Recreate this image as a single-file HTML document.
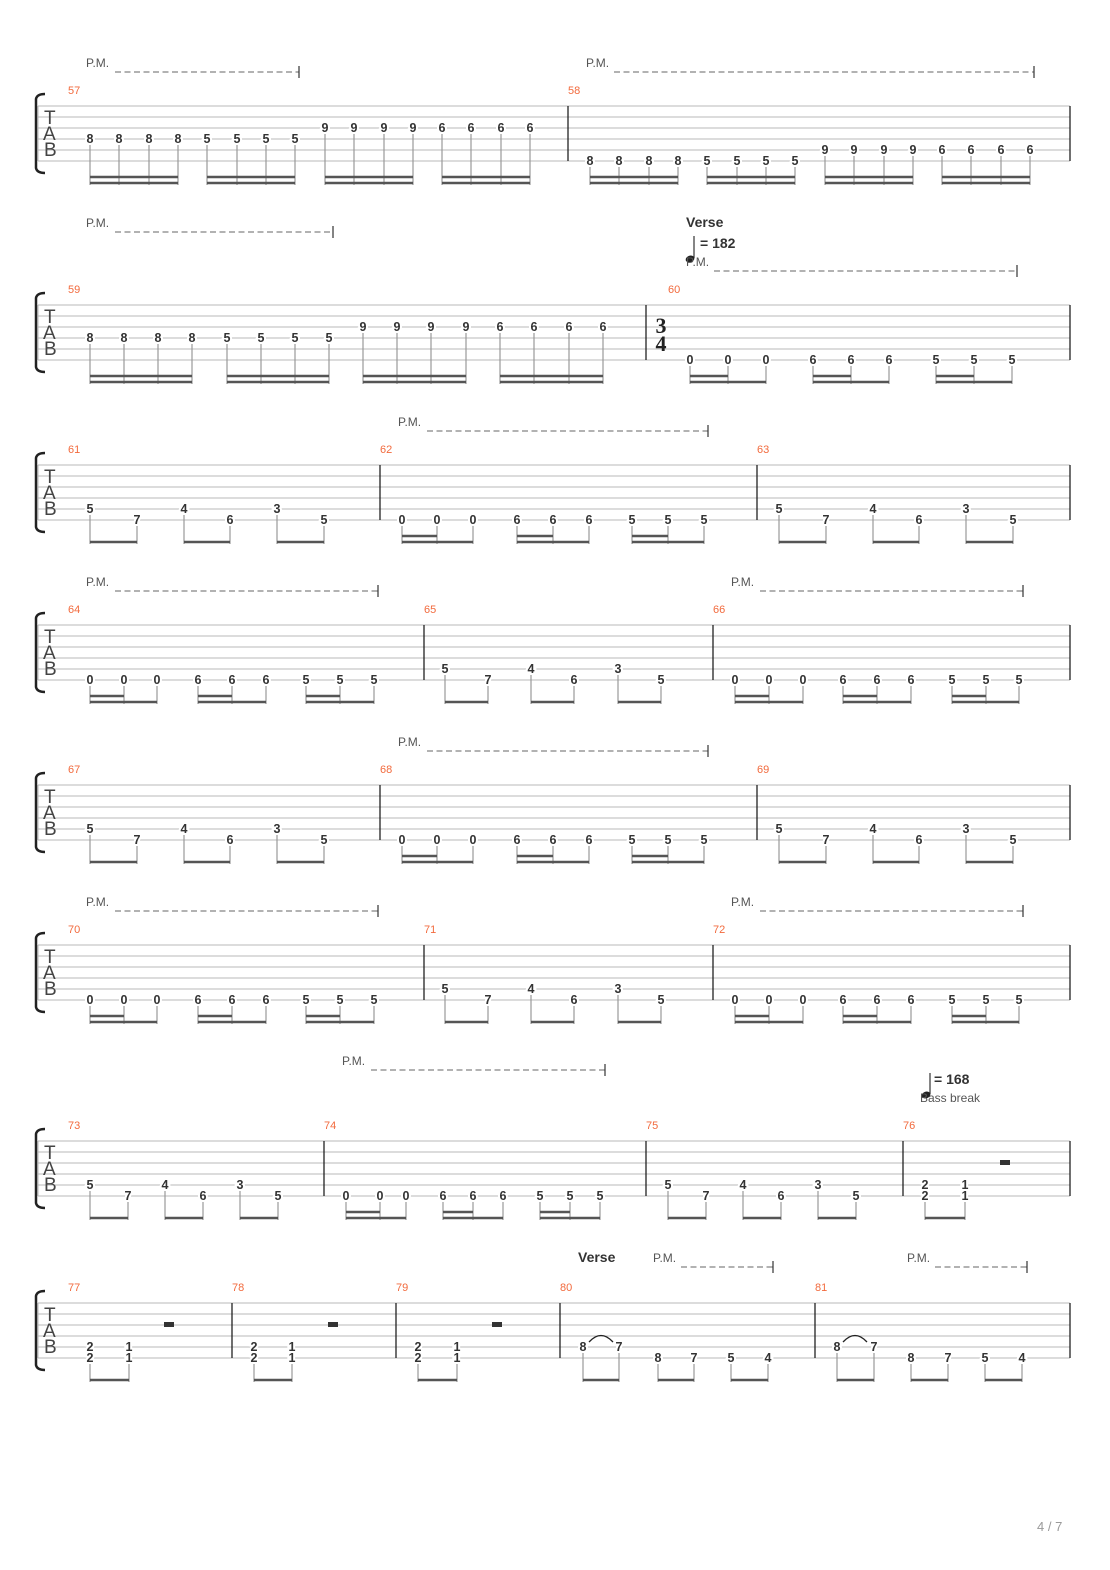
<!DOCTYPE html>
<html><head><meta charset="utf-8"><style>
html,body{margin:0;padding:0;background:#fff}
svg{display:block}
.sl{stroke:#b8b8b8;stroke-width:1}
.bl{stroke:#222;stroke-width:1.3}
.n{font-family:"Liberation Sans",sans-serif;font-size:12.5px;font-weight:bold;fill:#333;text-anchor:middle;dominant-baseline:central;stroke:#fff;stroke-width:4;paint-order:stroke}
.st{stroke:#999;stroke-width:1.2;fill:none}
.bm{stroke:#555;stroke-width:2.6;fill:none}
.mn{font-family:"Liberation Sans",sans-serif;font-size:11px;fill:#f26a3d}
.tab{font-family:"Liberation Sans",sans-serif;font-size:19px;fill:#444}
.pm{font-family:"Liberation Sans",sans-serif;font-size:12px;fill:#555}
.ds{stroke:#999;stroke-width:1.5;stroke-dasharray:6,3.5}
.tk{stroke:#333;stroke-width:1.2}
.bt{font-family:"Liberation Sans",sans-serif;font-size:14px;font-weight:bold;fill:#333}
.br{fill:none;stroke:#222;stroke-width:2.5}
</style></head><body>
<svg width="1110" height="1570" viewBox="0 0 1110 1570" xmlns="http://www.w3.org/2000/svg">
<defs>
<g id="staff">
<path class="sl" d="M38 0H1070M38 11H1070M38 22H1070M38 33H1070M38 44H1070M38 55H1070M38 0V55"/>
<path class="bl" d="M1070 0V55"/>
<path class="br" d="M45 -12Q37 -12 36 -7V62Q37 67 45 67"/>
<text class="tab" x="44" y="18">T</text><text class="tab" x="43" y="34">A</text><text class="tab" x="44" y="50">B</text>
</g>
</defs>

<!-- System 1 -->
<text class="pm" x="86" y="67">P.M.</text><path class="ds" d="M115 72H299"/><path class="tk" d="M299 66V78"/>
<text class="pm" x="586" y="67">P.M.</text><path class="ds" d="M614 72H1034"/><path class="tk" d="M1034 66V78"/>
<g transform="translate(0,106)">
<use href="#staff"/>
<text class="mn" x="68" y="-12">57</text><text class="mn" x="568" y="-12">58</text>
<path class="bl" d="M568 0V55"/>
<path class="st" d="M90 39V79M119 39V79M149 39V79M178 39V79M207 39V79M237 39V79M266 39V79M295 39V79M325 28V79M354 28V79M384 28V79M413 28V79M442 28V79M471 28V79M501 28V79M530 28V79M590 61V79M619 61V79M649 61V79M678 61V79M707 61V79M737 61V79M766 61V79M795 61V79M825 50V79M854 50V79M884 50V79M913 50V79M942 50V79M971 50V79M1001 50V79M1030 50V79"/>
<path class="bm" d="M90 71H178M90 77H178M207 71H295M207 77H295M325 71H413M325 77H413M442 71H530M442 77H530M590 71H678M590 77H678M707 71H795M707 77H795M825 71H913M825 77H913M942 71H1030M942 77H1030"/>
<text class="n" x="90" y="33">8</text><text class="n" x="119" y="33">8</text><text class="n" x="149" y="33">8</text><text class="n" x="178" y="33">8</text>
<text class="n" x="207" y="33">5</text><text class="n" x="237" y="33">5</text><text class="n" x="266" y="33">5</text><text class="n" x="295" y="33">5</text>
<text class="n" x="325" y="22">9</text><text class="n" x="354" y="22">9</text><text class="n" x="384" y="22">9</text><text class="n" x="413" y="22">9</text>
<text class="n" x="442" y="22">6</text><text class="n" x="471" y="22">6</text><text class="n" x="501" y="22">6</text><text class="n" x="530" y="22">6</text>
<text class="n" x="590" y="55">8</text><text class="n" x="619" y="55">8</text><text class="n" x="649" y="55">8</text><text class="n" x="678" y="55">8</text>
<text class="n" x="707" y="55">5</text><text class="n" x="737" y="55">5</text><text class="n" x="766" y="55">5</text><text class="n" x="795" y="55">5</text>
<text class="n" x="825" y="44">9</text><text class="n" x="854" y="44">9</text><text class="n" x="884" y="44">9</text><text class="n" x="913" y="44">9</text>
<text class="n" x="942" y="44">6</text><text class="n" x="971" y="44">6</text><text class="n" x="1001" y="44">6</text><text class="n" x="1030" y="44">6</text>
</g>

<!-- System 2 -->
<text class="pm" x="86" y="227">P.M.</text><path class="ds" d="M115 232H333"/><path class="tk" d="M333 226V238"/>
<text class="bt" x="686" y="227">Verse</text>
<path d="M694 236V258" stroke="#333" stroke-width="1.2"/><ellipse cx="690" cy="259" rx="4.5" ry="3.3" fill="#222" transform="rotate(-20 690 259)"/>
<text class="bt" x="700" y="248">= 182</text>
<text class="pm" x="686" y="266">P.M.</text><path class="ds" d="M714 271H1017"/><path class="tk" d="M1017 265V277"/>
<g transform="translate(0,305)">
<use href="#staff"/>
<text class="mn" x="68" y="-12">59</text><text class="mn" x="668" y="-12">60</text>
<path class="bl" d="M646 0V55"/>
<text x="661" y="28" font-family="Liberation Serif,serif" font-size="22" font-weight="bold" fill="#222" text-anchor="middle">3</text>
<text x="661" y="46" font-family="Liberation Serif,serif" font-size="22" font-weight="bold" fill="#222" text-anchor="middle">4</text>
<path class="st" d="M90 39V79M124 39V79M158 39V79M192 39V79M227 39V79M261 39V79M295 39V79M329 39V79M363 28V79M397 28V79M431 28V79M466 28V79M500 28V79M534 28V79M569 28V79M603 28V79M690 61V79M728 61V79M766 61V79M813 61V79M851 61V79M889 61V79M936 61V79M974 61V79M1012 61V79"/>
<path class="bm" d="M90 71H192M90 77H192M227 71H329M227 77H329M363 71H466M363 77H466M500 71H603M500 77H603M690 71H728M690 77H766M813 71H851M813 77H889M936 71H974M936 77H1012"/>
<text class="n" x="90" y="33">8</text><text class="n" x="124" y="33">8</text><text class="n" x="158" y="33">8</text><text class="n" x="192" y="33">8</text>
<text class="n" x="227" y="33">5</text><text class="n" x="261" y="33">5</text><text class="n" x="295" y="33">5</text><text class="n" x="329" y="33">5</text>
<text class="n" x="363" y="22">9</text><text class="n" x="397" y="22">9</text><text class="n" x="431" y="22">9</text><text class="n" x="466" y="22">9</text>
<text class="n" x="500" y="22">6</text><text class="n" x="534" y="22">6</text><text class="n" x="569" y="22">6</text><text class="n" x="603" y="22">6</text>
<text class="n" x="690" y="55">0</text><text class="n" x="728" y="55">0</text><text class="n" x="766" y="55">0</text>
<text class="n" x="813" y="55">6</text><text class="n" x="851" y="55">6</text><text class="n" x="889" y="55">6</text>
<text class="n" x="936" y="55">5</text><text class="n" x="974" y="55">5</text><text class="n" x="1012" y="55">5</text>
</g>

<!-- System 3 -->
<text class="pm" x="398" y="426">P.M.</text><path class="ds" d="M427 431H708"/><path class="tk" d="M708 425V437"/>
<g transform="translate(0,465)">
<use href="#staff"/>
<text class="mn" x="68" y="-12">61</text><text class="mn" x="380" y="-12">62</text><text class="mn" x="757" y="-12">63</text>
<path class="bl" d="M380 0V55M757 0V55"/>
<path class="st" d="M90 50V79M137 61V79M184 50V79M230 61V79M277 50V79M324 61V79M402 61V79M437 61V79M473 61V79M517 61V79M553 61V79M589 61V79M632 61V79M668 61V79M704 61V79M779 50V79M826 61V79M873 50V79M919 61V79M966 50V79M1013 61V79"/>
<path class="bm" d="M90 77H137M184 77H230M277 77H324M402 71H437M402 77H473M517 71H553M517 77H589M632 71H668M632 77H704M779 77H826M873 77H919M966 77H1013"/>
<text class="n" x="90" y="44">5</text><text class="n" x="137" y="55">7</text><text class="n" x="184" y="44">4</text><text class="n" x="230" y="55">6</text><text class="n" x="277" y="44">3</text><text class="n" x="324" y="55">5</text>
<text class="n" x="402" y="55">0</text><text class="n" x="437" y="55">0</text><text class="n" x="473" y="55">0</text><text class="n" x="517" y="55">6</text><text class="n" x="553" y="55">6</text><text class="n" x="589" y="55">6</text><text class="n" x="632" y="55">5</text><text class="n" x="668" y="55">5</text><text class="n" x="704" y="55">5</text>
<text class="n" x="779" y="44">5</text><text class="n" x="826" y="55">7</text><text class="n" x="873" y="44">4</text><text class="n" x="919" y="55">6</text><text class="n" x="966" y="44">3</text><text class="n" x="1013" y="55">5</text>
</g>

<!-- System 4 -->
<text class="pm" x="86" y="586">P.M.</text><path class="ds" d="M115 591H378"/><path class="tk" d="M378 585V597"/>
<text class="pm" x="731" y="586">P.M.</text><path class="ds" d="M760 591H1023"/><path class="tk" d="M1023 585V597"/>
<g transform="translate(0,625)">
<use href="#staff"/>
<text class="mn" x="68" y="-12">64</text><text class="mn" x="424" y="-12">65</text><text class="mn" x="713" y="-12">66</text>
<path class="bl" d="M424 0V55M713 0V55"/>
<path class="st" d="M90 61V79M124 61V79M157 61V79M198 61V79M232 61V79M266 61V79M306 61V79M340 61V79M374 61V79M445 50V79M488 61V79M531 50V79M574 61V79M618 50V79M661 61V79M735 61V79M769 61V79M803 61V79M843 61V79M877 61V79M911 61V79M952 61V79M986 61V79M1019 61V79"/>
<path class="bm" d="M90 71H124M90 77H157M198 71H232M198 77H266M306 71H340M306 77H374M445 77H488M531 77H574M618 77H661M735 71H769M735 77H803M843 71H877M843 77H911M952 71H986M952 77H1019"/>
<text class="n" x="90" y="55">0</text><text class="n" x="124" y="55">0</text><text class="n" x="157" y="55">0</text><text class="n" x="198" y="55">6</text><text class="n" x="232" y="55">6</text><text class="n" x="266" y="55">6</text><text class="n" x="306" y="55">5</text><text class="n" x="340" y="55">5</text><text class="n" x="374" y="55">5</text>
<text class="n" x="445" y="44">5</text><text class="n" x="488" y="55">7</text><text class="n" x="531" y="44">4</text><text class="n" x="574" y="55">6</text><text class="n" x="618" y="44">3</text><text class="n" x="661" y="55">5</text>
<text class="n" x="735" y="55">0</text><text class="n" x="769" y="55">0</text><text class="n" x="803" y="55">0</text><text class="n" x="843" y="55">6</text><text class="n" x="877" y="55">6</text><text class="n" x="911" y="55">6</text><text class="n" x="952" y="55">5</text><text class="n" x="986" y="55">5</text><text class="n" x="1019" y="55">5</text>
</g>

<!-- System 5 -->
<text class="pm" x="398" y="746">P.M.</text><path class="ds" d="M427 751H708"/><path class="tk" d="M708 745V757"/>
<g transform="translate(0,785)">
<use href="#staff"/>
<text class="mn" x="68" y="-12">67</text><text class="mn" x="380" y="-12">68</text><text class="mn" x="757" y="-12">69</text>
<path class="bl" d="M380 0V55M757 0V55"/>
<path class="st" d="M90 50V79M137 61V79M184 50V79M230 61V79M277 50V79M324 61V79M402 61V79M437 61V79M473 61V79M517 61V79M553 61V79M589 61V79M632 61V79M668 61V79M704 61V79M779 50V79M826 61V79M873 50V79M919 61V79M966 50V79M1013 61V79"/>
<path class="bm" d="M90 77H137M184 77H230M277 77H324M402 71H437M402 77H473M517 71H553M517 77H589M632 71H668M632 77H704M779 77H826M873 77H919M966 77H1013"/>
<text class="n" x="90" y="44">5</text><text class="n" x="137" y="55">7</text><text class="n" x="184" y="44">4</text><text class="n" x="230" y="55">6</text><text class="n" x="277" y="44">3</text><text class="n" x="324" y="55">5</text>
<text class="n" x="402" y="55">0</text><text class="n" x="437" y="55">0</text><text class="n" x="473" y="55">0</text><text class="n" x="517" y="55">6</text><text class="n" x="553" y="55">6</text><text class="n" x="589" y="55">6</text><text class="n" x="632" y="55">5</text><text class="n" x="668" y="55">5</text><text class="n" x="704" y="55">5</text>
<text class="n" x="779" y="44">5</text><text class="n" x="826" y="55">7</text><text class="n" x="873" y="44">4</text><text class="n" x="919" y="55">6</text><text class="n" x="966" y="44">3</text><text class="n" x="1013" y="55">5</text>
</g>

<!-- System 6 -->
<text class="pm" x="86" y="906">P.M.</text><path class="ds" d="M115 911H378"/><path class="tk" d="M378 905V917"/>
<text class="pm" x="731" y="906">P.M.</text><path class="ds" d="M760 911H1023"/><path class="tk" d="M1023 905V917"/>
<g transform="translate(0,945)">
<use href="#staff"/>
<text class="mn" x="68" y="-12">70</text><text class="mn" x="424" y="-12">71</text><text class="mn" x="713" y="-12">72</text>
<path class="bl" d="M424 0V55M713 0V55"/>
<path class="st" d="M90 61V79M124 61V79M157 61V79M198 61V79M232 61V79M266 61V79M306 61V79M340 61V79M374 61V79M445 50V79M488 61V79M531 50V79M574 61V79M618 50V79M661 61V79M735 61V79M769 61V79M803 61V79M843 61V79M877 61V79M911 61V79M952 61V79M986 61V79M1019 61V79"/>
<path class="bm" d="M90 71H124M90 77H157M198 71H232M198 77H266M306 71H340M306 77H374M445 77H488M531 77H574M618 77H661M735 71H769M735 77H803M843 71H877M843 77H911M952 71H986M952 77H1019"/>
<text class="n" x="90" y="55">0</text><text class="n" x="124" y="55">0</text><text class="n" x="157" y="55">0</text><text class="n" x="198" y="55">6</text><text class="n" x="232" y="55">6</text><text class="n" x="266" y="55">6</text><text class="n" x="306" y="55">5</text><text class="n" x="340" y="55">5</text><text class="n" x="374" y="55">5</text>
<text class="n" x="445" y="44">5</text><text class="n" x="488" y="55">7</text><text class="n" x="531" y="44">4</text><text class="n" x="574" y="55">6</text><text class="n" x="618" y="44">3</text><text class="n" x="661" y="55">5</text>
<text class="n" x="735" y="55">0</text><text class="n" x="769" y="55">0</text><text class="n" x="803" y="55">0</text><text class="n" x="843" y="55">6</text><text class="n" x="877" y="55">6</text><text class="n" x="911" y="55">6</text><text class="n" x="952" y="55">5</text><text class="n" x="986" y="55">5</text><text class="n" x="1019" y="55">5</text>
</g>

<!-- System 7 -->
<text class="pm" x="342" y="1065">P.M.</text><path class="ds" d="M371 1070H605"/><path class="tk" d="M605 1064V1076"/>
<path d="M930 1073V1094" stroke="#333" stroke-width="1.2"/><ellipse cx="926" cy="1095" rx="4.5" ry="3.3" fill="#222" transform="rotate(-20 926 1095)"/>
<text class="bt" x="934" y="1084">= 168</text>
<text class="pm" x="920" y="1102">Bass break</text>
<g transform="translate(0,1141)">
<use href="#staff"/>
<text class="mn" x="68" y="-12">73</text><text class="mn" x="324" y="-12">74</text><text class="mn" x="646" y="-12">75</text><text class="mn" x="903" y="-12">76</text>
<path class="bl" d="M324 0V55M646 0V55M903 0V55"/>
<path class="st" d="M90 50V79M128 61V79M165 50V79M203 61V79M240 50V79M278 61V79M346 61V79M380 61V79M406 61V79M443 61V79M473 61V79M503 61V79M540 61V79M570 61V79M600 61V79M668 50V79M706 61V79M743 50V79M781 61V79M818 50V79M856 61V79M925 61V79M965 61V79"/>
<path class="bm" d="M90 77H128M165 77H203M240 77H278M346 71H380M346 77H406M443 71H473M443 77H503M540 71H570M540 77H600M668 77H706M743 77H781M818 77H856M925 77H965"/>
<text class="n" x="90" y="44">5</text><text class="n" x="128" y="55">7</text><text class="n" x="165" y="44">4</text><text class="n" x="203" y="55">6</text><text class="n" x="240" y="44">3</text><text class="n" x="278" y="55">5</text>
<text class="n" x="346" y="55">0</text><text class="n" x="380" y="55">0</text><text class="n" x="406" y="55">0</text><text class="n" x="443" y="55">6</text><text class="n" x="473" y="55">6</text><text class="n" x="503" y="55">6</text><text class="n" x="540" y="55">5</text><text class="n" x="570" y="55">5</text><text class="n" x="600" y="55">5</text>
<text class="n" x="668" y="44">5</text><text class="n" x="706" y="55">7</text><text class="n" x="743" y="44">4</text><text class="n" x="781" y="55">6</text><text class="n" x="818" y="44">3</text><text class="n" x="856" y="55">5</text>
<text class="n" x="925" y="44">2</text><text class="n" x="925" y="55">2</text><text class="n" x="965" y="44">1</text><text class="n" x="965" y="55">1</text>
<rect x="1000" y="19" width="10" height="5" fill="#333"/>
</g>

<!-- System 8 -->
<text class="bt" x="578" y="1262">Verse</text>
<text class="pm" x="653" y="1262">P.M.</text><path class="ds" d="M681 1267H773"/><path class="tk" d="M773 1261V1273"/>
<text class="pm" x="907" y="1262">P.M.</text><path class="ds" d="M935 1267H1027"/><path class="tk" d="M1027 1261V1273"/>
<g transform="translate(0,1303)">
<use href="#staff"/>
<text class="mn" x="68" y="-12">77</text><text class="mn" x="232" y="-12">78</text><text class="mn" x="396" y="-12">79</text><text class="mn" x="560" y="-12">80</text><text class="mn" x="815" y="-12">81</text>
<path class="bl" d="M232 0V55M396 0V55M560 0V55M815 0V55"/>
<path class="st" d="M90 61V79M129 61V79M254 61V79M292 61V79M418 61V79M457 61V79M583 50V79M619 50V79M658 61V79M694 61V79M731 61V79M768 61V79M837 50V79M874 50V79M911 61V79M948 61V79M985 61V79M1022 61V79"/>
<path class="bm" d="M90 77H129M254 77H292M418 77H457M583 77H619M658 77H694M731 77H768M837 77H874M911 77H948M985 77H1022"/>
<rect x="164" y="19" width="10" height="5" fill="#333"/><rect x="328" y="19" width="10" height="5" fill="#333"/><rect x="492" y="19" width="10" height="5" fill="#333"/>
<path d="M589 39Q601 26 613 39" fill="none" stroke="#222" stroke-width="1.3"/>
<path d="M843 39Q855 26 867 39" fill="none" stroke="#222" stroke-width="1.3"/>
<text class="n" x="90" y="44">2</text><text class="n" x="90" y="55">2</text><text class="n" x="129" y="44">1</text><text class="n" x="129" y="55">1</text>
<text class="n" x="254" y="44">2</text><text class="n" x="254" y="55">2</text><text class="n" x="292" y="44">1</text><text class="n" x="292" y="55">1</text>
<text class="n" x="418" y="44">2</text><text class="n" x="418" y="55">2</text><text class="n" x="457" y="44">1</text><text class="n" x="457" y="55">1</text>
<text class="n" x="583" y="44">8</text><text class="n" x="619" y="44">7</text><text class="n" x="658" y="55">8</text><text class="n" x="694" y="55">7</text><text class="n" x="731" y="55">5</text><text class="n" x="768" y="55">4</text>
<text class="n" x="837" y="44">8</text><text class="n" x="874" y="44">7</text><text class="n" x="911" y="55">8</text><text class="n" x="948" y="55">7</text><text class="n" x="985" y="55">5</text><text class="n" x="1022" y="55">4</text>
</g>

<text x="1037" y="1531" font-family="Liberation Sans,sans-serif" font-size="13" fill="#999">4 / 7</text>
</svg>
</body></html>
